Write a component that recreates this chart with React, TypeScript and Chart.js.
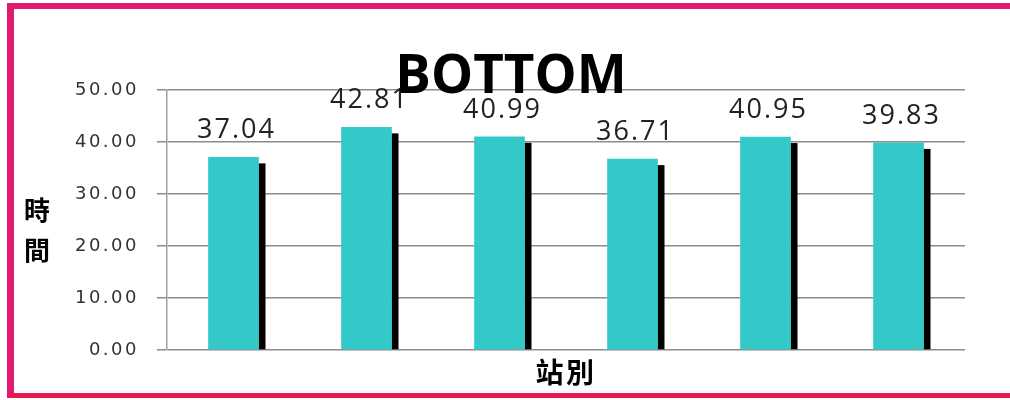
import React, { useEffect, useRef } from 'react';
import { Chart, registerables } from 'chart.js';

Chart.register(...registerables);

// ---- data ----
const stations = ['1', '2', '3', '4', '5', '6'];
const times = [37.04, 42.81, 40.99, 36.71, 40.95, 39.83];
const chartTitle = 'BOTTOM';
const yTitleChars = ['時', '間'];
const xTitle = '站別';
const yMin = 0;
const yMax = 50;
const yStep = 10;

export default function App() {
  const ref = useRef<HTMLCanvasElement>(null);

  useEffect(() => {
    const canvas = ref.current;
    if (!canvas) return;

    const spacingPlugin = {
      id: 'spacing',
      beforeDraw(chart: any) {
        chart.ctx.letterSpacing = '2.5px';
      },
      afterDraw(chart: any) {
        chart.ctx.letterSpacing = '0px';
      },
    };

    const shadowPlugin = {
      id: 'barShadow',
      beforeDatasetsDraw(chart: any) {
        const c = chart.ctx;
        const meta = chart.getDatasetMeta(0);
        c.save();
        c.fillStyle = '#000000';
        meta.data.forEach((bar: any) => {
          const { x, y, base, width } = bar.getProps(['x', 'y', 'base', 'width'], true);
          c.fillRect(x + width / 2, y + 6, 7, base - y - 6);
        });
        c.restore();
      },
    };

    const labelPlugin = {
      id: 'valueLabels',
      afterDatasetsDraw(chart: any) {
        const c = chart.ctx;
        const meta = chart.getDatasetMeta(0);
        c.save();
        c.letterSpacing = '2px';
        c.font = '27px "Open Sans"';
        c.fillStyle = '#222222';
        c.textAlign = 'center';
        c.textBaseline = 'middle';
        meta.data.forEach((bar: any, i: number) => {
          const { x, y } = bar.getProps(['x', 'y'], true);
          c.fillText(times[i].toFixed(2), x + 3, y - 27);
        });
        c.restore();
      },
    };

    const textPlugin = {
      id: 'texts',
      afterDraw(chart: any) {
        const c = chart.ctx;
        const area = chart.chartArea;
        c.save();
        c.letterSpacing = '0px';
        c.fillStyle = '#000000';
        c.textAlign = 'center';
        c.textBaseline = 'alphabetic';
        c.font = 'bold 53px "Open Sans"';
        c.fillText(chartTitle, chart.width / 2 + 6, area.top + 3);
        c.font = 'bold 26px "Noto Sans CJK TC"';
        c.textBaseline = 'middle';
        yTitleChars.forEach((ch, i) => {
          c.fillText(ch, 37, area.top + 120 + i * 40);
        });
        c.restore();
      },
    };

    const chart = new Chart(canvas, {
      type: 'bar',
      data: {
        labels: stations,
        datasets: [
          {
            data: times,
            backgroundColor: '#33C9C9',
            borderWidth: 0,
            barThickness: 50,
          },
        ],
      },
      options: {
        responsive: false,
        animation: false,
        devicePixelRatio: 1,
        layout: { padding: { top: 90, right: 45, bottom: 0, left: 0 } },
        plugins: {
          legend: { display: false },
          title: { display: false },
          tooltip: { enabled: false },
        },
        scales: {
          x: {
            grid: { display: false },
            border: { display: false },
            ticks: { display: false },
            title: {
              display: true,
              text: xTitle,
              color: '#000000',
              font: { family: '"Noto Sans CJK TC"', size: 28, weight: 'bold' },
              padding: { top: 0, bottom: 11 },
            },
            afterFit(scale: any) {
              scale.height = 50;
            },
          },
          y: {
            min: yMin,
            max: yMax,
            ticks: {
              stepSize: yStep,
              color: '#333333',
              padding: 18,
              font: { family: '"DejaVu Sans"', size: 18 },
              callback: (v: any) => Number(v).toFixed(2),
            },
            grid: {
              color: '#8c8c8c',
              lineWidth: 1.5,
              tickLength: 10,
            },
            border: { display: true, color: '#a0a0a0', width: 1.5 },
            afterFit(scale: any) {
              scale.width = 167;
            },
          },
        },
      },
      plugins: [spacingPlugin, shadowPlugin, labelPlugin, textPlugin],
    });

    return () => chart.destroy();
  }, []);

  return (
    <div
      style={{
        position: 'fixed',
        left: 0,
        top: 0,
        width: 1010,
        height: 400,
        background: '#ffffff',
      }}
    >
      <canvas ref={ref} width={1010} height={400} style={{ display: 'block' }} />
      <div
        style={{
          position: 'absolute',
          left: 7,
          top: 3,
          width: 1003,
          height: 395,
          boxSizing: 'border-box',
          borderTop: '6px solid #E01A6E',
          borderLeft: '7px solid #E01A6E',
          borderBottom: '5px solid #E8184E',
          pointerEvents: 'none',
        }}
      />
    </div>
  );
}
